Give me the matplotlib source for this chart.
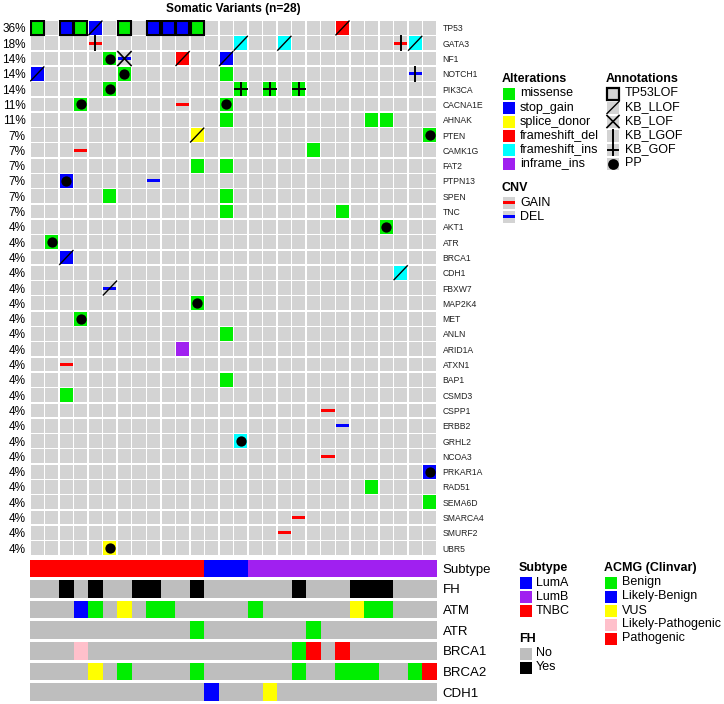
import matplotlib.pyplot as plt
from matplotlib.patches import Rectangle
import numpy as np

plt.rcParams['font.family'] = ['Liberation Sans', 'DejaVu Sans']

W, H = 724, 704
n_samples = 28

genes = ["TP53", "GATA3", "NF1", "NOTCH1", "PIK3CA", "CACNA1E", "AHNAK", "PTEN",
         "CAMK1G", "FAT2", "PTPN13", "SPEN", "TNC", "AKT1", "ATR", "BRCA1", "CDH1",
         "FBXW7", "MAP2K4", "MET", "ANLN", "ARID1A", "ATXN1", "BAP1", "CSMD3", "CSPP1",
         "ERBB2", "GRHL2", "NCOA3", "PRKAR1A", "RAD51", "SEMA6D", "SMARCA4", "SMURF2", "UBR5"]
pct_labels = ["36%", "18%", "14%", "14%", "14%", "11%", "11%", "7%", "7%", "7%", "7%",
              "7%", "7%", "4%", "4%", "4%", "4%", "4%", "4%", "4%", "4%", "4%", "4%",
              "4%", "4%", "4%", "4%", "4%", "4%", "4%", "4%", "4%", "4%", "4%", "4%"]

# (gene, sample column, alteration)
mutations = [
    ("TP53", 0, "missense"), ("TP53", 2, "stop_gain"), ("TP53", 3, "missense"),
    ("TP53", 4, "stop_gain"), ("TP53", 6, "missense"), ("TP53", 8, "stop_gain"),
    ("TP53", 9, "stop_gain"), ("TP53", 10, "stop_gain"), ("TP53", 11, "missense"),
    ("TP53", 21, "frameshift_del"),
    ("GATA3", 14, "frameshift_ins"), ("GATA3", 17, "frameshift_ins"), ("GATA3", 26, "frameshift_ins"),
    ("NF1", 5, "missense"), ("NF1", 10, "frameshift_del"), ("NF1", 13, "stop_gain"),
    ("NOTCH1", 0, "stop_gain"), ("NOTCH1", 6, "missense"), ("NOTCH1", 13, "missense"),
    ("PIK3CA", 5, "missense"), ("PIK3CA", 14, "missense"), ("PIK3CA", 16, "missense"),
    ("PIK3CA", 18, "missense"),
    ("CACNA1E", 3, "missense"), ("CACNA1E", 13, "missense"),
    ("AHNAK", 13, "missense"), ("AHNAK", 23, "missense"), ("AHNAK", 24, "missense"),
    ("PTEN", 11, "splice_donor"), ("PTEN", 27, "missense"),
    ("CAMK1G", 19, "missense"),
    ("FAT2", 11, "missense"), ("FAT2", 13, "missense"),
    ("PTPN13", 2, "stop_gain"),
    ("SPEN", 5, "missense"), ("SPEN", 13, "missense"),
    ("TNC", 13, "missense"), ("TNC", 21, "missense"),
    ("AKT1", 24, "missense"), ("ATR", 1, "missense"), ("BRCA1", 2, "stop_gain"),
    ("CDH1", 25, "frameshift_ins"), ("MAP2K4", 11, "missense"), ("MET", 3, "missense"),
    ("ANLN", 13, "missense"), ("ARID1A", 10, "inframe_ins"), ("BAP1", 13, "missense"),
    ("CSMD3", 2, "missense"), ("GRHL2", 14, "frameshift_ins"), ("PRKAR1A", 27, "stop_gain"),
    ("RAD51", 23, "missense"), ("SEMA6D", 27, "missense"), ("UBR5", 5, "splice_donor"),
]

cnvs = [
    ("GATA3", 4, "GAIN"), ("GATA3", 25, "GAIN"), ("NF1", 6, "DEL"), ("NOTCH1", 26, "DEL"),
    ("CACNA1E", 10, "GAIN"), ("CAMK1G", 3, "GAIN"), ("PTPN13", 8, "DEL"), ("FBXW7", 5, "DEL"),
    ("ATXN1", 2, "GAIN"), ("CSPP1", 20, "GAIN"), ("ERBB2", 21, "DEL"), ("NCOA3", 20, "GAIN"),
    ("SMARCA4", 18, "GAIN"), ("SMURF2", 17, "GAIN"),
]

annotations = [
    ("TP53", 0, "TP53LOF"), ("TP53", 2, "TP53LOF"), ("TP53", 3, "TP53LOF"), ("TP53", 6, "TP53LOF"),
    ("TP53", 8, "TP53LOF"), ("TP53", 9, "TP53LOF"), ("TP53", 10, "TP53LOF"), ("TP53", 11, "TP53LOF"),
    ("TP53", 4, "KB_LLOF"), ("TP53", 21, "KB_LLOF"), ("GATA3", 14, "KB_LLOF"),
    ("GATA3", 17, "KB_LLOF"), ("GATA3", 26, "KB_LLOF"), ("NF1", 10, "KB_LLOF"),
    ("NF1", 13, "KB_LLOF"), ("NOTCH1", 0, "KB_LLOF"), ("PTEN", 11, "KB_LLOF"),
    ("BRCA1", 2, "KB_LLOF"), ("CDH1", 25, "KB_LLOF"), ("FBXW7", 5, "KB_LLOF"),
    ("NF1", 6, "KB_LOF"),
    ("GATA3", 4, "KB_LGOF"), ("GATA3", 25, "KB_LGOF"), ("NOTCH1", 26, "KB_LGOF"),
    ("PIK3CA", 14, "KB_GOF"), ("PIK3CA", 16, "KB_GOF"), ("PIK3CA", 18, "KB_GOF"),
    ("NF1", 5, "PP"), ("NOTCH1", 6, "PP"), ("PIK3CA", 5, "PP"), ("CACNA1E", 3, "PP"),
    ("CACNA1E", 13, "PP"), ("PTEN", 27, "PP"), ("PTPN13", 2, "PP"), ("AKT1", 24, "PP"),
    ("ATR", 1, "PP"), ("MAP2K4", 11, "PP"), ("MET", 3, "PP"), ("GRHL2", 14, "PP"),
    ("PRKAR1A", 27, "PP"), ("UBR5", 5, "PP"),
]

# bottom tracks
subtype = ["TNBC"] * 12 + ["LumA"] * 3 + ["LumB"] * 13
fh = ["No", "No", "Yes", "No", "Yes", "No", "No", "Yes", "Yes", "No", "No", "Yes", "No", "No",
      "No", "No", "No", "No", "Yes", "No", "No", "No", "Yes", "Yes", "Yes", "No", "No", "No"]
track_genes = ["ATM", "ATR", "BRCA1", "BRCA2", "CDH1"]
acmg_atm = ["", "", "", "Likely-Benign", "Benign", "", "VUS", "", "Benign", "Benign", "", "", "", "",
            "", "Benign", "", "", "", "", "", "", "VUS", "Benign", "Benign", "", "", ""]
acmg_atr = ["", "", "", "", "", "", "", "", "", "", "", "Benign", "", "", "", "", "", "", "",
            "Benign", "", "", "", "", "", "", "", ""]
acmg_brca1 = ["", "", "", "Likely-Pathogenic", "", "", "", "", "", "", "", "", "", "", "", "", "",
              "", "Benign", "Pathogenic", "", "Pathogenic", "", "", "", "", "", ""]
acmg_brca2 = ["", "", "", "", "VUS", "", "Benign", "", "", "", "", "Benign", "", "", "", "", "", "",
              "Benign", "", "", "Benign", "Benign", "Benign", "", "", "Benign", "Pathogenic"]
acmg_cdh1 = ["", "", "", "", "", "", "", "", "", "", "", "", "Likely-Benign", "", "", "", "VUS", "",
             "", "", "", "", "", "", "", "", "", ""]

alt_labels = ["missense", "stop_gain", "splice_donor", "frameshift_del", "frameshift_ins", "inframe_ins"]
alt_colors = ["#00ee00", "#0000ff", "#ffff00", "#ff0000", "#00ffff", "#a020f0"]
ann_labels = ["TP53LOF", "KB_LLOF", "KB_LOF", "KB_LGOF", "KB_GOF", "PP"]
cnv_labels = ["GAIN", "DEL"]
cnv_colors = ["#ff0000", "#0000ff"]
subtype_labels = ["LumA", "LumB", "TNBC"]
subtype_colors = ["#0000ff", "#a020f0", "#ff0000"]
fh_labels = ["No", "Yes"]
fh_colors = ["#bebebe", "#000000"]
acmg_labels = ["Benign", "Likely-Benign", "VUS", "Likely-Pathogenic", "Pathogenic"]
acmg_colors = ["#00ee00", "#0000ff", "#ffff00", "#ffc0cb", "#ff0000"]

GRID_GREY = "#d3d3d3"
TRACK_GREY = "#bebebe"
alt_col = dict(zip(alt_labels, alt_colors))
cnv_col = dict(zip(cnv_labels, cnv_colors))


def draw_symbol(ax, x, y, kind, w=0.9, h=0.9):
    # x, y = top-left corner in data coords (y axis inverted)
    if kind == "TP53LOF":
        ax.add_patch(Rectangle((x, y), w, h, fill=False, ec="k", lw=1.5, zorder=6))
    elif kind == "KB_LLOF":
        ax.plot([x, x + w], [y + h, y], color="k", lw=1.0, zorder=5)
    elif kind == "KB_LOF":
        ax.plot([x, x + w], [y + h, y], color="k", lw=1.2, zorder=5)
        ax.plot([x, x + w], [y, y + h], color="k", lw=1.2, zorder=5)
    elif kind == "KB_LGOF":
        ax.plot([x + w / 2, x + w / 2], [y, y + h], color="k", lw=1.4, zorder=5)
    elif kind == "KB_GOF":
        ax.plot([x + w / 2, x + w / 2], [y + 0.05 * h, y + 0.95 * h], color="k", lw=1.4, zorder=5)
        ax.plot([x + 0.05 * w, x + 0.95 * w], [y + h / 2, y + h / 2], color="k", lw=1.4, zorder=5)
    elif kind == "PP":
        ax.scatter([x + w / 2], [y + h / 2], s=55, color="k", zorder=5, linewidths=0)


fig = plt.figure(figsize=(W / 100, H / 100), dpi=100)

# ---- mutation grid
g_top, g_bot, g_left, g_right = 20.3, 555.8, 30, 437
ax = fig.add_axes([g_left / W, 1 - g_bot / H, (g_right - g_left) / W, (g_bot - g_top) / H])
ax.set_xlim(0, n_samples)
ax.set_ylim(len(genes), 0)
row = {g: i for i, g in enumerate(genes)}
for r in range(len(genes)):
    for c in range(n_samples):
        ax.add_patch(Rectangle((c + 0.05, r + 0.05), 0.9, 0.9, fc=GRID_GREY, ec="none", zorder=1))
for g, c, t in mutations:
    ax.add_patch(Rectangle((c + 0.05, row[g] + 0.05), 0.9, 0.9, fc=alt_col[t], ec="none", zorder=2))
for g, c, t in cnvs:
    ax.add_patch(Rectangle((c + 0.05, row[g] + 0.4), 0.9, 0.2, fc=cnv_col[t], ec="none", zorder=3))
for g, c, t in annotations:
    draw_symbol(ax, c + 0.05, row[g] + 0.05, t)

ax.set_yticks(np.arange(len(genes)) + 0.5)
ax.set_yticklabels(pct_labels, fontsize=8.5)
ax.tick_params(axis="y", length=0, pad=3)
ax.set_xticks([])
for s in ax.spines.values():
    s.set_visible(False)
ax2 = ax.twinx()
ax2.set_ylim(len(genes), 0)
ax2.set_yticks(np.arange(len(genes)) + 0.5)
ax2.set_yticklabels(genes, fontsize=6.2, color="#222222")
ax2.tick_params(axis="y", length=0, pad=4)
for s in ax2.spines.values():
    s.set_visible(False)

fig.text((g_left + g_right) / 2 / W, 1 - 9 / H, "Somatic Variants (n=28)",
         ha="center", va="center", fontsize=8.6, fontweight="bold")

# ---- bottom annotation tracks
t_top = 559.5
tax = fig.add_axes([g_left / W, 0, (g_right - g_left) / W, (H - t_top) / H])
tax.set_xlim(0, n_samples)
tax.set_ylim(7, 0)
bh = 0.85
sub_col = dict(zip(subtype_labels, subtype_colors))
fh_col = dict(zip(fh_labels, fh_colors))
acmg_col = dict(zip(acmg_labels, acmg_colors))
tracks = [[sub_col[v] for v in subtype], [fh_col[v] for v in fh]]
for vals in [acmg_atm, acmg_atr, acmg_brca1, acmg_brca2, acmg_cdh1]:
    tracks.append([acmg_col[v] if v else TRACK_GREY for v in vals])
for i, cols in enumerate(tracks):
    # merge runs of the same colour so no seams show between cells
    start = 0
    for c in range(1, n_samples + 1):
        if c == n_samples or cols[c] != cols[start]:
            tax.add_patch(Rectangle((start, i), c - start, bh, fc=cols[start], ec="none"))
            start = c
tax.set_yticks(np.arange(7) + bh / 2)
tax.set_yticklabels(["Subtype", "FH"] + track_genes, fontsize=9.5)
tax.yaxis.tick_right()
tax.tick_params(axis="y", length=0, pad=4)
tax.set_xticks([])
for s in tax.spines.values():
    s.set_visible(False)

# ---- legends (pixel coordinate overlay)
lax = fig.add_axes([0, 0, 1, 1])
lax.set_xlim(0, W)
lax.set_ylim(H, 0)
lax.axis("off")


def legend_block(x, y, title, labels, key, step=14.0, tx=18, ks=12):
    lax.text(x, y, title, fontsize=9, fontweight="bold", va="center", ha="left")
    for i, lab in enumerate(labels):
        yy = y + 14.5 + i * step
        key(x + 1, yy - ks / 2, ks, lab, i)
        lax.text(x + tx, yy, lab, fontsize=9, va="center", ha="left")


def color_key(colors):
    def f(x, y, s, lab, i):
        lax.add_patch(Rectangle((x, y), s, s, fc=colors[i], ec="none"))
    return f


def ann_key(x, y, s, lab, i):
    lax.add_patch(Rectangle((x, y), s, s, fc=GRID_GREY, ec="none"))
    if lab == "TP53LOF":
        lax.add_patch(Rectangle((x, y), s, s, fill=False, ec="k", lw=1.6))
    elif lab == "PP":
        lax.scatter([x + s / 2], [y + s / 2], s=60, color="k", linewidths=0, zorder=5)
    else:
        draw_symbol(lax, x, y, lab, w=s, h=s)


def cnv_key(x, y, s, lab, i):
    lax.add_patch(Rectangle((x, y), s, s, fc=GRID_GREY, ec="none"))
    lax.add_patch(Rectangle((x, y + s * 0.4), s, s * 0.2, fc=cnv_colors[i], ec="none"))


legend_block(502, 79, "Alterations", alt_labels, color_key(alt_colors), tx=18)
legend_block(606, 79, "Annotations", ann_labels, ann_key, tx=19)
legend_block(502, 188, "CNV", cnv_labels, cnv_key, tx=18)
legend_block(519, 568, "Subtype", subtype_labels, color_key(subtype_colors), tx=17)
legend_block(519, 639, "FH", fh_labels, color_key(fh_colors), tx=17)
legend_block(604, 568, "ACMG (Clinvar)", acmg_labels, color_key(acmg_colors), tx=18)

fig.savefig("out.png", dpi=100)
